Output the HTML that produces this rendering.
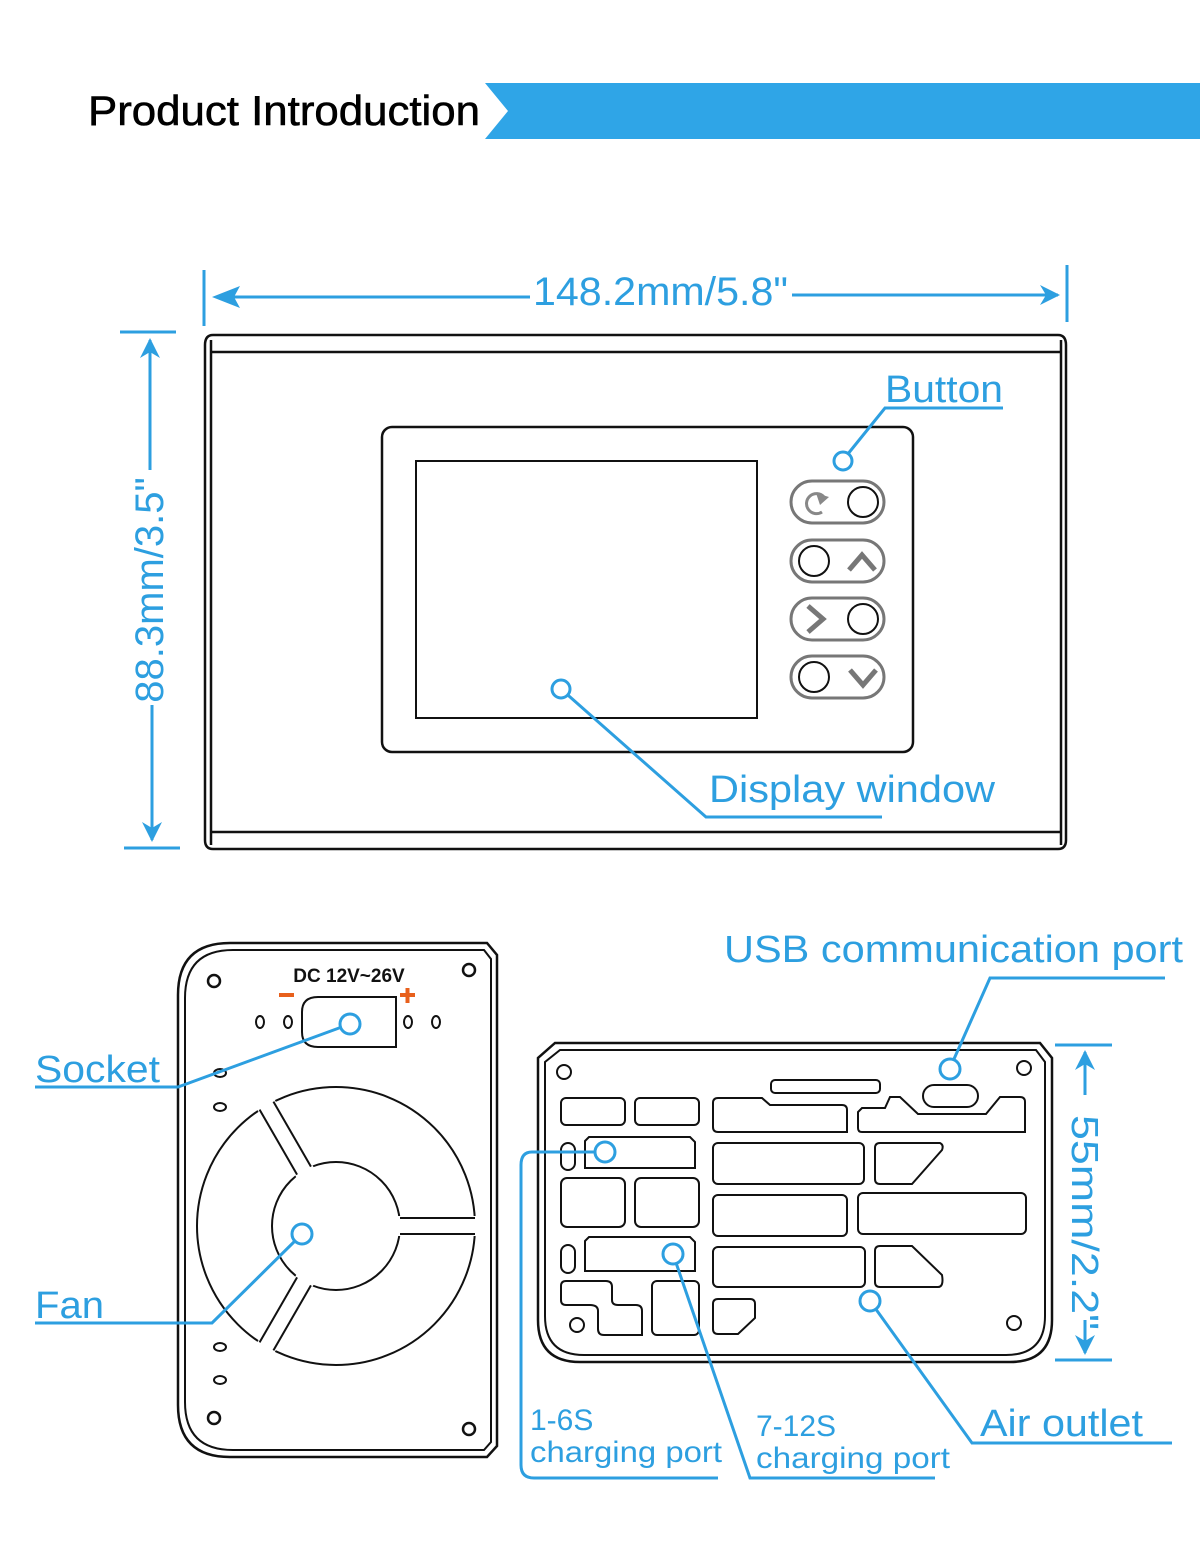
<!DOCTYPE html>
<html><head><meta charset="utf-8"><style>
html,body{margin:0;padding:0;background:#fff}
svg{display:block}
text{font-family:"Liberation Sans",Arial,sans-serif}
</style></head><body>
<svg width="1200" height="1544" viewBox="0 0 1200 1544" xmlns="http://www.w3.org/2000/svg">
<defs>
<marker id="ah" viewBox="0 0 20 20" refX="18" refY="10" markerWidth="20" markerHeight="20" markerUnits="userSpaceOnUse" orient="auto"><path d="M0,0 L20,10 L0,20 L6,10 Z" fill="#2d9fe0"/></marker>
</defs>
<rect width="1200" height="1544" fill="#fff"/>
<!-- header -->
<text x="88" y="125" font-size="42" fill="#000" stroke="#000" stroke-width="0.6" textLength="392" lengthAdjust="spacingAndGlyphs">Product Introduction</text>
<polygon points="485,83 1200,83 1200,139 485,139 508,111" fill="#2fa5e7"/>

<!-- dimension top -->
<g stroke="#2d9fe0" stroke-width="3" fill="none">
<line x1="204" y1="270" x2="204" y2="326"/>
<line x1="1067" y1="265" x2="1067" y2="322"/>
<line x1="230" y1="297" x2="530" y2="297"/>
<line x1="792" y1="295" x2="1058" y2="295" marker-end="url(#ah)"/>
<!-- left -->
<line x1="120" y1="332" x2="176" y2="332"/>
<line x1="124" y1="848" x2="180" y2="848"/>
<line x1="150" y1="470" x2="150" y2="340" marker-end="url(#ah)"/>
<line x1="152" y1="705" x2="152" y2="840" marker-end="url(#ah)"/>
</g>
<path d="M212,297 L240,286 L234,297 L240,308 Z" fill="#2d9fe0"/>
<text x="533" y="305" font-size="40" fill="#2d9fe0" textLength="255" lengthAdjust="spacingAndGlyphs">148.2mm/5.8"</text>
<text transform="translate(163,590) rotate(-90)" font-size="40" fill="#2d9fe0" text-anchor="middle">88.3mm/3.5"</text>

<!-- front body -->
<g stroke="#111" stroke-width="2.5" fill="none">
<path d="M213,335 L1058,335 Q1066,335 1066,345 L1066,840 Q1066,849 1058,849 L213,849 Q205,849 205,840 L205,345 Q205,335 213,335 Z"/>
<line x1="210" y1="352" x2="1062" y2="352"/>
<line x1="210" y1="832" x2="1062" y2="832"/>
<line x1="211" y1="340" x2="211" y2="845"/>
<line x1="1061" y1="340" x2="1061" y2="845"/>
<rect x="382" y="427" width="531" height="325" rx="10"/>
<rect x="416" y="461" width="341" height="257" stroke-width="2"/>
</g>
<!-- buttons -->
<g stroke="#777" stroke-width="3" fill="none">
<rect x="791" y="481" width="93" height="42" rx="21"/>
<rect x="791" y="540" width="93" height="42" rx="21"/>
<rect x="791" y="598" width="93" height="42" rx="21"/>
<rect x="791" y="656" width="93" height="42" rx="21"/>
<path d="M824,497 A10,10 0 1,0 822,512" stroke="#888"/>
<path d="M849,570 L862,555 L875,570" stroke-width="5"/>
<path d="M808,606 L823,619 L808,632" stroke-width="5"/>
<path d="M850,670 L863,685 L876,670" stroke-width="5"/>
</g>
<path d="M816,493 L829,497 L820,505Z" fill="#888"/>
<g stroke="#111" stroke-width="2" fill="none">
<circle cx="863" cy="502" r="15"/>
<circle cx="814" cy="561" r="15"/>
<circle cx="863" cy="619" r="15"/>
<circle cx="814" cy="677" r="15"/>
</g>
<!-- front labels -->
<g stroke="#2d9fe0" stroke-width="3" fill="none">
<polyline points="843,460 885,408 1003,408"/>
<circle cx="843" cy="461" r="9" fill="#fff"/>
<polyline points="561,689 706,817 882,817"/>
<circle cx="561" cy="689" r="9" fill="#fff"/>
</g>
<text x="885" y="402" font-size="38" fill="#2d9fe0" textLength="118" lengthAdjust="spacingAndGlyphs">Button</text>
<text x="709" y="802" font-size="38" fill="#2d9fe0" textLength="286" lengthAdjust="spacingAndGlyphs">Display window</text>

<!-- side view -->
<g stroke="#111" stroke-width="2.5" fill="none">
<path d="M230,943 L487,943 L497,955 L497,1446 L487,1457 L230,1457 Q178,1457 178,1405 L178,995 Q178,943 230,943 Z"/>
<path d="M233,950 L484,950 L491,959 L491,1442 L484,1450 L233,1450 Q185,1450 185,1402 L185,998 Q185,950 233,950 Z" stroke-width="2"/>
<circle cx="214" cy="981" r="6"/><circle cx="469" cy="970" r="6"/>
<circle cx="214" cy="1418" r="6"/><circle cx="469" cy="1429" r="6"/>
<path d="M318,997 L396,997 L396,1047 L318,1047 Q302,1047 302,1032 L302,1012 Q302,997 318,997 Z" stroke-width="2"/>
<ellipse cx="260" cy="1022" rx="4" ry="6" stroke-width="2"/><ellipse cx="288" cy="1022" rx="4" ry="6" stroke-width="2"/>
<ellipse cx="408" cy="1022" rx="4" ry="6" stroke-width="2"/><ellipse cx="436" cy="1022" rx="4" ry="6" stroke-width="2"/>
<ellipse cx="220" cy="1073" rx="6" ry="4" stroke-width="2"/><ellipse cx="220" cy="1107" rx="6" ry="4" stroke-width="2"/>
<ellipse cx="220" cy="1347" rx="6" ry="4" stroke-width="2"/><ellipse cx="220" cy="1380" rx="6" ry="4" stroke-width="2"/>
<circle cx="336" cy="1226" r="139" stroke-width="2"/>
<circle cx="336" cy="1226" r="64" stroke-width="2"/>
</g>
<g fill="#fff">
<rect x="395" y="1216" width="90" height="20"/>
<rect x="395" y="1216" width="90" height="20" transform="rotate(120 336 1226)"/>
<rect x="395" y="1216" width="90" height="20" transform="rotate(240 336 1226)"/>
</g>
<g stroke="#111" stroke-width="2">
<line x1="400" y1="1218" x2="475" y2="1218"/><line x1="400" y1="1234" x2="475" y2="1234"/>
<g transform="rotate(120 336 1226)"><line x1="400" y1="1218" x2="475" y2="1218"/><line x1="400" y1="1234" x2="475" y2="1234"/></g>
<g transform="rotate(240 336 1226)"><line x1="400" y1="1218" x2="475" y2="1218"/><line x1="400" y1="1234" x2="475" y2="1234"/></g>
</g>
<text x="349" y="982" font-size="19" font-weight="bold" fill="#111" text-anchor="middle">DC 12V~26V</text>
<rect x="279" y="993" width="15" height="4" fill="#e8601c"/>
<path d="M400,995 h15 M407.5,988 v15" stroke="#e8601c" stroke-width="4"/>
<g stroke="#2d9fe0" stroke-width="3" fill="none">
<polyline points="35,1087 178,1087 350,1024"/>
<circle cx="350" cy="1024" r="10" fill="#fff"/>
<polyline points="35,1323 212,1323 302,1234"/>
<circle cx="302" cy="1234" r="10" fill="#fff"/>
</g>
<text x="35" y="1082" font-size="38" fill="#2d9fe0" textLength="125" lengthAdjust="spacingAndGlyphs">Socket</text>
<text x="35" y="1318" font-size="38" fill="#2d9fe0" textLength="69" lengthAdjust="spacingAndGlyphs">Fan</text>

<!-- bottom view -->
<g stroke="#111" stroke-width="2.5" fill="none">
<path d="M555,1043 L1040,1043 L1052,1058 L1052,1320 Q1052,1362 1010,1362 L580,1362 Q538,1362 538,1320 L538,1058 Z"/>
<path d="M560,1050 L1036,1050 L1045,1062 L1045,1316 Q1045,1355 1006,1355 L584,1355 Q545,1355 545,1316 L545,1062 Z" stroke-width="2"/>
</g>
<g stroke="#111" stroke-width="2" fill="none">
<circle cx="564" cy="1072" r="7"/><circle cx="1024" cy="1068" r="7"/>
<circle cx="577" cy="1325" r="7"/><circle cx="1014" cy="1323" r="7"/>
<rect x="561" y="1098" width="64" height="27" rx="5"/>
<rect x="635" y="1098" width="64" height="27" rx="5"/>
<rect x="771" y="1080" width="109" height="13" rx="4"/>
<path d="M718,1098 L762,1098 L770,1105 L842,1105 Q847,1105 847,1110 L847,1132 L718,1132 Q713,1132 713,1127 L713,1103 Q713,1098 718,1098 Z"/>
<path d="M862,1108 L885,1108 L890,1097 L900,1097 L918,1114 L986,1114 L1000,1097 L1020,1097 Q1025,1097 1025,1102 L1025,1132 L862,1132 Q858,1132 858,1128 L858,1112 Z"/>
<rect x="923" y="1085" width="55" height="22" rx="11"/>
<rect x="561" y="1143" width="14" height="27" rx="7"/>
<path d="M585,1141 L589,1137 L690,1137 L695,1142 L695,1168 L585,1168 Z"/>
<rect x="713" y="1143" width="151" height="41" rx="5"/>
<path d="M880,1143 L940,1143 Q944,1145 942,1150 L912,1184 L880,1184 Q875,1184 875,1179 L875,1148 Q875,1143 880,1143 Z"/>
<rect x="561" y="1178" width="64" height="49" rx="6"/>
<rect x="635" y="1178" width="64" height="49" rx="6"/>
<rect x="713" y="1195" width="134" height="41" rx="5"/>
<rect x="858" y="1193" width="168" height="41" rx="5"/>
<rect x="561" y="1245" width="14" height="28" rx="7"/>
<path d="M585,1241 L589,1237 L690,1237 L695,1242 L695,1271 L585,1271 Z"/>
<rect x="713" y="1247" width="152" height="40" rx="5"/>
<path d="M880,1246 L912,1246 L942,1275 Q944,1287 938,1287 L880,1287 Q875,1287 875,1282 L875,1251 Q875,1246 880,1246 Z"/>
<path d="M566,1281 L606,1281 Q612,1281 612,1287 L612,1300 Q612,1305 618,1305 L636,1305 Q642,1305 642,1311 L642,1335 L604,1335 Q598,1335 598,1329 L598,1311 Q598,1305 590,1305 L566,1305 Q561,1305 561,1300 L561,1286 Q561,1281 566,1281 Z"/>
<rect x="652" y="1281" width="47" height="54" rx="5"/>
<path d="M718,1299 L750,1299 Q755,1299 755,1304 L755,1318 L738,1334 L718,1334 Q713,1334 713,1329 L713,1304 Q713,1299 718,1299 Z"/>
</g>
<!-- bottom dims & labels -->
<g stroke="#2d9fe0" stroke-width="3" fill="none">
<line x1="1055" y1="1045" x2="1112" y2="1045"/>
<line x1="1055" y1="1360" x2="1112" y2="1360"/>
<line x1="1085" y1="1095" x2="1085" y2="1052" marker-end="url(#ah)"/>
<line x1="1085" y1="1320" x2="1085" y2="1353" marker-end="url(#ah)"/>
<polyline points="950,1068 990,978 1165,978"/>
<circle cx="950" cy="1069" r="10" fill="#fff"/>
<path d="M605,1152 L532,1152 Q521,1152 521,1165 L521,1465 Q521,1478 534,1478 L718,1478"/>
<circle cx="605" cy="1152" r="10" fill="#fff"/>
<polyline points="673,1254 750,1478 935,1478"/>
<circle cx="673" cy="1254" r="10" fill="#fff"/>
<polyline points="870,1301 972,1443 1172,1443"/>
<circle cx="870" cy="1301" r="10" fill="#fff"/>
</g>
<text x="724" y="962" font-size="38" fill="#2d9fe0" textLength="459" lengthAdjust="spacingAndGlyphs">USB communication port</text>
<text x="1072" y="1115" transform="rotate(90 1072 1115)" font-size="38" fill="#2d9fe0" textLength="215" lengthAdjust="spacingAndGlyphs">55mm/2.2"</text>
<text x="530" y="1430" font-size="30" fill="#2d9fe0">1-6S</text>
<text x="530" y="1462" font-size="30" fill="#2d9fe0" textLength="192" lengthAdjust="spacingAndGlyphs">charging port</text>
<text x="756" y="1436" font-size="30" fill="#2d9fe0">7-12S</text>
<text x="756" y="1468" font-size="30" fill="#2d9fe0" textLength="194" lengthAdjust="spacingAndGlyphs">charging port</text>
<text x="980" y="1436" font-size="38" fill="#2d9fe0" textLength="163" lengthAdjust="spacingAndGlyphs">Air outlet</text>
</svg>
</body></html>
